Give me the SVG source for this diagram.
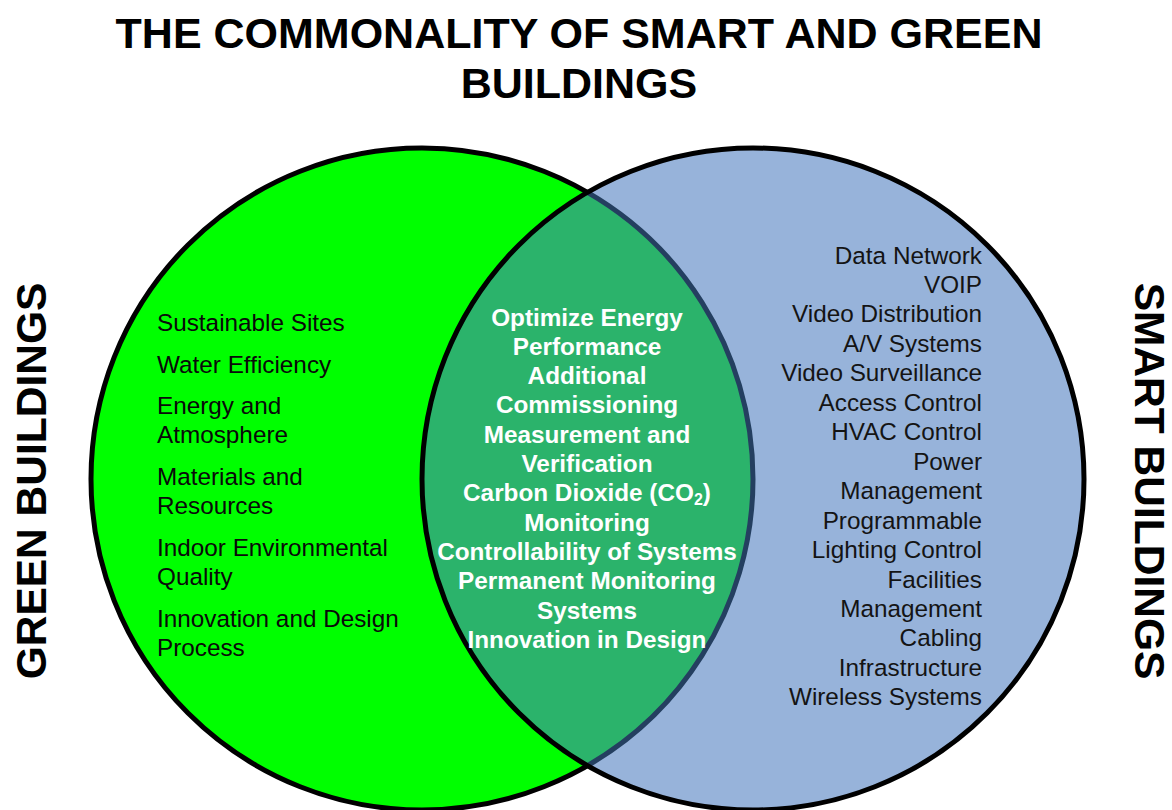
<svg xmlns="http://www.w3.org/2000/svg" width="1172" height="810" viewBox="0 0 1172 810">
<style>
.title{font-family:"Liberation Sans",Arial,sans-serif;font-weight:bold;font-size:43px;fill:#000;text-anchor:middle}
.side{font-family:"Liberation Sans",Arial,sans-serif;font-weight:bold;font-size:42.5px;fill:#000;text-anchor:middle}
.gl{font-family:"Liberation Sans",Arial,sans-serif;font-size:24.3px;fill:#0a0a0a}
.sl{font-family:"Liberation Sans",Arial,sans-serif;font-size:24.3px;fill:#141414;text-anchor:end}
.cl{font-family:"Liberation Sans",Arial,sans-serif;font-weight:bold;font-size:24.3px;fill:#fff;text-anchor:middle}
</style>
<rect width="1172" height="810" fill="#fff"/>
<g id="title">
<text class="title" x="579" y="48">THE COMMONALITY OF SMART AND GREEN</text>
<text class="title" x="579" y="98">BUILDINGS</text>
</g>
<g id="green-circle">
<circle cx="422" cy="479" r="331" fill="#00ff00" stroke="#000" stroke-width="5"/>
</g>
<g id="smart-circle">
<circle cx="753" cy="479" r="331" fill="#97b3da"/>
</g>
<g id="intersection">
<path d="M587.5 192.35 A331 331 0 0 1 587.5 765.65 A331 331 0 0 1 587.5 192.35 Z" fill="#2bb36b"/>
<path d="M587.5 192.35 A331 331 0 0 1 587.5 765.65" fill="none" stroke="#243f60" stroke-width="5"/>
</g>
<g id="smart-outline">
<circle cx="753" cy="479" r="331" fill="none" stroke="#000" stroke-width="5"/>
</g>
<g id="green-label">
<text class="side" transform="translate(46,481) rotate(-90)">GREEN BUILDINGS</text>
</g>
<g id="smart-label">
<text class="side" transform="translate(1135,481) rotate(90)">SMART BUILDINGS</text>
</g>
<g id="green-list">
<text class="gl" x="157" y="331">Sustainable Sites</text>
<text class="gl" x="157" y="373">Water Efficiency</text>
<text class="gl" x="157" y="414">Energy and</text>
<text class="gl" x="157" y="443">Atmosphere</text>
<text class="gl" x="157" y="485">Materials and</text>
<text class="gl" x="157" y="514">Resources</text>
<text class="gl" x="157" y="556">Indoor Environmental</text>
<text class="gl" x="157" y="585">Quality</text>
<text class="gl" x="157" y="627">Innovation and Design</text>
<text class="gl" x="157" y="656">Process</text>
</g>
<g id="common-list">
<text class="cl" x="587" y="325.5">Optimize Energy</text>
<text class="cl" x="587" y="354.8">Performance</text>
<text class="cl" x="587" y="384.1">Additional</text>
<text class="cl" x="587" y="413.4">Commissioning</text>
<text class="cl" x="587" y="442.7">Measurement and</text>
<text class="cl" x="587" y="472">Verification</text>
<text class="cl" x="587" y="501.3">Carbon Dioxide (CO<tspan font-size="16" dy="4">2</tspan><tspan dy="-4">)</tspan></text>
<text class="cl" x="587" y="530.6">Monitoring</text>
<text class="cl" x="587" y="559.9">Controllability of Systems</text>
<text class="cl" x="587" y="589.2">Permanent Monitoring</text>
<text class="cl" x="587" y="618.5">Systems</text>
<text class="cl" x="587" y="647.8">Innovation in Design</text>
</g>
<g id="smart-list">
<text class="sl" x="982" y="263.5">Data Network</text>
<text class="sl" x="982" y="293">VOIP</text>
<text class="sl" x="982" y="322.4">Video Distribution</text>
<text class="sl" x="982" y="351.9">A/V Systems</text>
<text class="sl" x="982" y="381.3">Video Surveillance</text>
<text class="sl" x="982" y="410.8">Access Control</text>
<text class="sl" x="982" y="440.2">HVAC Control</text>
<text class="sl" x="982" y="469.7">Power</text>
<text class="sl" x="982" y="499.1">Management</text>
<text class="sl" x="982" y="528.6">Programmable</text>
<text class="sl" x="982" y="558">Lighting Control</text>
<text class="sl" x="982" y="587.5">Facilities</text>
<text class="sl" x="982" y="616.9">Management</text>
<text class="sl" x="982" y="646.4">Cabling</text>
<text class="sl" x="982" y="675.8">Infrastructure</text>
<text class="sl" x="982" y="705.3">Wireless Systems</text>
</g>
</svg>
